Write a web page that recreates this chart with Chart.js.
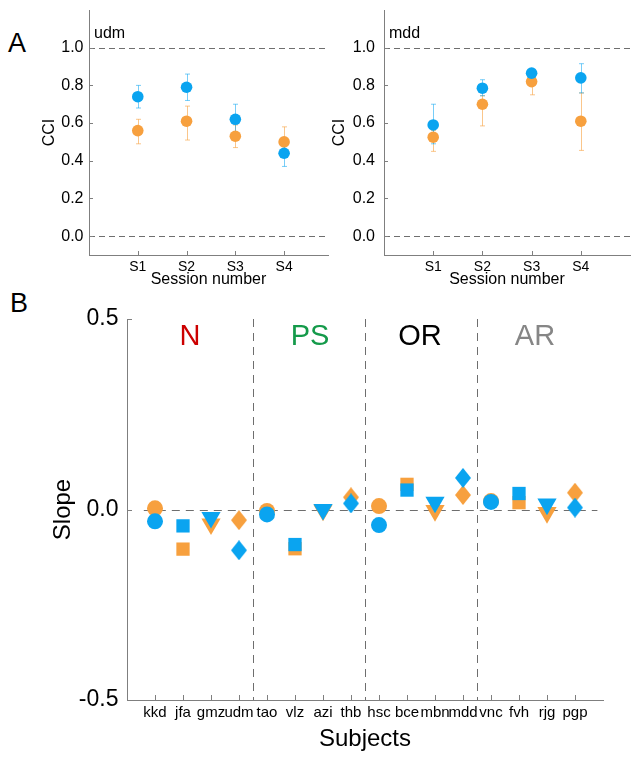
<!DOCTYPE html>
<html><head><meta charset="utf-8">
<script src="https://cdn.jsdelivr.net/npm/chart.js@4.4.1/dist/chart.umd.min.js"></script>
<style>
html,body{margin:0;padding:0;background:#fff;}
body{width:639px;height:763px;position:relative;overflow:hidden;font-family:"Liberation Sans",Arial,Helvetica,sans-serif;}
canvas{position:absolute;}
.pl{position:absolute;font-size:27px;line-height:27px;color:#000;}
</style></head><body>
<div class="pl" style="left:8px;top:30px">A</div>
<div class="pl" style="left:10px;top:290px">B</div>
<canvas id="cA1" width="335" height="295" style="left:0;top:0;width:335px;height:295px"></canvas>
<canvas id="cA2" width="339" height="295" style="left:300px;top:0;width:339px;height:295px"></canvas>
<canvas id="cB" width="639" height="463" style="left:0;top:300px;width:639px;height:463px"></canvas>
<script>
// ---------------- data ----------------
const sessions = ['S1', 'S2', 'S3', 'S4'];
const cciTicks = [0, 0.2, 0.4, 0.6, 0.8, 1.0];

const udmBlue      = [0.74, 0.79, 0.62, 0.44];
const udmBlueLow   = [0.68, 0.72, 0.53, 0.37];
const udmBlueHigh  = [0.80, 0.86, 0.70, 0.51];
const udmOrange     = [0.56, 0.61, 0.53, 0.50];
const udmOrangeLow  = [0.49, 0.51, 0.47, 0.43];
const udmOrangeHigh = [0.62, 0.69, 0.59, 0.58];

const mddBlue      = [0.59, 0.785, 0.865, 0.84];
const mddBlueLow   = [0.49, 0.745, 0.85, 0.76];
const mddBlueHigh  = [0.70, 0.83, 0.88, 0.915];
const mddOrange     = [0.525, 0.70, 0.82, 0.61];
const mddOrangeLow  = [0.45, 0.585, 0.75, 0.455];
const mddOrangeHigh = [0.56, 0.745, 0.86, 0.76];

const subjects = ['kkd','jfa','gmz','udm','tao','vlz','azi','thb','hsc','bce','mbn','mdd','vnc','fvh','rjg','pgp'];
const groups = ['N', 'PS', 'OR', 'AR'];
const slopeTicks = [-0.5, 0, 0.5];
const slopeOrange = [0.003,-0.104,-0.038,-0.028,-0.004,-0.103,-0.002,0.032,0.009,0.066,-0.003,0.038,0.022,0.018,-0.008,0.044];
const slopeBlue   = [-0.031,-0.043,-0.021,-0.107,-0.013,-0.092,0.000,0.016,-0.041,0.051,0.019,0.083,0.020,0.042,0.014,0.005];

// ---------------- styles ----------------
const FONT = '"Liberation Sans", Arial, Helvetica, sans-serif';
Chart.defaults.font.family = FONT;
Chart.defaults.color = '#000';
const BLUE = 'rgb(10,164,240)';
const ORANGE = 'rgb(247,160,62)';
const BLUE_ERR = 'rgba(10,164,240,0.55)';
const ORANGE_ERR = 'rgba(247,160,62,0.6)';
const AXIS = '#7f7f7f';
const DASH = '#6e6e6e';
const groupColors = ['#cc0000', '#149a4a', '#000000', '#868686'];
const groupDx = [-7, 1, -1, 2];

function pts(vals, xs) { return vals.map((v, i) => ({ x: xs ? xs[i] : i + 1, y: v })); }

function makeDecor(o) {
  return {
    id: 'decor',
    beforeDatasetsDraw(chart) {
      const { ctx, chartArea: a, scales: { x, y } } = chart;
      ctx.save();
      ctx.strokeStyle = DASH; ctx.lineWidth = 1; ctx.setLineDash(o.dash);
      (o.hLines || []).forEach(h => {
        const py = Math.round(y.getPixelForValue(h.v)) + 0.5;
        const x0 = h.from != null ? x.getPixelForValue(h.from) : a.left;
        const x1 = h.to != null ? x.getPixelForValue(h.to) : a.right;
        ctx.beginPath(); ctx.moveTo(x0, py); ctx.lineTo(x1, py); ctx.stroke();
      });
      (o.vLines || []).forEach(v => {
        const px = Math.round(x.getPixelForValue(v)) + 0.5;
        ctx.beginPath(); ctx.moveTo(px, a.top); ctx.lineTo(px, a.bottom); ctx.stroke();
      });
      ctx.setLineDash([]);
      chart.data.datasets.forEach((ds, i) => {
        if (!ds.errLow) return;
        const meta = chart.getDatasetMeta(i);
        ctx.strokeStyle = ds.errColor; ctx.lineWidth = 1;
        meta.data.forEach((p, j) => {
          const px = Math.round(p.x) + 0.5;
          const y0 = y.getPixelForValue(ds.errLow[j]);
          const y1 = y.getPixelForValue(ds.errHigh[j]);
          ctx.beginPath();
          ctx.moveTo(px, y0); ctx.lineTo(px, y1);
          ctx.moveTo(px - 2.5, y0); ctx.lineTo(px + 2.5, y0);
          ctx.moveTo(px - 2.5, y1); ctx.lineTo(px + 2.5, y1);
          ctx.stroke();
        });
      });
      ctx.restore();
    },
    afterDraw(chart) {
      const { ctx, chartArea: a, scales: { x, y } } = chart;
      ctx.save();
      ctx.strokeStyle = AXIS; ctx.lineWidth = 1;
      const L = o.tickLen;
      x.ticks.forEach(t => {
        const px = Math.round(x.getPixelForValue(t.value)) + 0.5;
        ctx.beginPath(); ctx.moveTo(px, a.bottom); ctx.lineTo(px, a.bottom - L); ctx.stroke();
      });
      y.ticks.forEach(t => {
        const py = Math.round(y.getPixelForValue(t.value)) + 0.5;
        ctx.beginPath(); ctx.moveTo(a.left, py); ctx.lineTo(a.left + L, py); ctx.stroke();
      });
      ctx.fillStyle = '#000';
      if (o.corner) {
        ctx.font = '16px ' + FONT; ctx.textAlign = 'left'; ctx.textBaseline = 'alphabetic';
        ctx.fillText(o.corner, a.left + 5, a.top + 28);
      }
      if (o.groups) {
        ctx.font = '29px ' + FONT; ctx.textAlign = 'center'; ctx.textBaseline = 'alphabetic';
        o.groups.forEach((g, k) => {
          ctx.fillStyle = groupColors[k];
          const cx = x.getPixelForValue(k * 4 + 2.5) + groupDx[k];
          ctx.fillText(g, cx, a.top + 26);
        });
      }
      ctx.restore();
    }
  };
}

function zeroPad(s) { s.paddingTop = 0; s.paddingBottom = 0; s.paddingLeft = 0; s.paddingRight = 0; }

function cciChart(id, name, blue, bLo, bHi, orange, oLo, oHi, yW, xMax, padRight, titlePad, tickPad) {
  new Chart(document.getElementById(id), {
    type: 'scatter',
    data: {
      datasets: [
        { label: name + ' orange', data: pts(orange), backgroundColor: ORANGE, pointRadius: 5.8, pointBorderWidth: 0, order: 1,
          errLow: oLo, errHigh: oHi, errColor: ORANGE_ERR },
        { label: name + ' blue', data: pts(blue), backgroundColor: BLUE, pointRadius: 5.8, pointBorderWidth: 0, order: 0,
          errLow: bLo, errHigh: bHi, errColor: BLUE_ERR }
      ]
    },
    options: {
      responsive: false, animation: false, devicePixelRatio: 1,
      layout: { padding: { top: 10, right: padRight, bottom: 0, left: 0 } },
      plugins: { legend: { display: false }, tooltip: { enabled: false } },
      scales: {
        x: {
          type: 'linear', min: 0, max: xMax,
          grid: { display: false, drawTicks: false },
          border: { display: true, color: AXIS, width: 1 },
          afterBuildTicks: s => { s.ticks = sessions.map((_, i) => ({ value: i + 1 })); },
          afterFit: s => { s.height = 40; zeroPad(s); },
          ticks: { autoSkip: false, maxRotation: 0, minRotation: 0, padding: 4, font: { size: 14 }, color: '#000',
            callback: v => sessions[Math.round(v) - 1] || '' },
          title: { display: true, text: 'Session number', font: { size: 16 }, color: '#000', padding: { top: 0, bottom: 6 } }
        },
        y: {
          type: 'linear', min: -0.1, max: 1.2,
          grid: { display: false, drawTicks: false },
          border: { display: true, color: AXIS, width: 1 },
          afterBuildTicks: s => { s.ticks = cciTicks.map(v => ({ value: v })); },
          afterFit: s => { s.width = yW; zeroPad(s); },
          ticks: { padding: tickPad, font: { size: 16 }, color: '#000', callback: v => v.toFixed(1) },
          title: { display: true, text: 'CCI', font: { size: 16 }, color: '#000', padding: { top: titlePad, bottom: 0 } }
        }
      }
    },
    plugins: [makeDecor({ dash: [6, 4], tickLen: 4, hLines: [{ v: 0 }, { v: 1 }], corner: name })]
  });
}

cciChart('cA1', 'udm', udmBlue, udmBlueLow, udmBlueHigh, udmOrange, udmOrangeLow, udmOrangeHigh, 89, 4.9, 7, 40, 5.5);
cciChart('cA2', 'mdd', mddBlue, mddBlueLow, mddBlueHigh, mddOrange, mddOrangeLow, mddOrangeHigh, 84, 5, 9, 30, 9);

// ---------------- panel B ----------------
function diamondImg(color, w, h) {
  const c = document.createElement('canvas'); c.width = w; c.height = h;
  const g = c.getContext('2d'); g.fillStyle = color;
  g.beginPath(); g.moveTo(w / 2, 0); g.lineTo(w, h / 2); g.lineTo(w / 2, h); g.lineTo(0, h / 2); g.closePath(); g.fill();
  return c;
}
const diaO = diamondImg(ORANGE, 16, 20), diaB = diamondImg(BLUE, 16, 20);
const shapeOf = (i, dia) => ['circle', 'rect', 'triangle', dia][i % 4];
const radiusOf = i => [8, 9.4, 11.1, 10][i % 4];
const rotOf = i => (i % 4 === 2 ? 180 : 0);

new Chart(document.getElementById('cB'), {
  type: 'scatter',
  data: {
    datasets: [
      { label: 'orange', data: pts(slopeOrange), backgroundColor: ORANGE, pointBorderWidth: 0, order: 1,
        pointStyle: subjects.map((_, i) => shapeOf(i, diaO)), pointRadius: subjects.map((_, i) => radiusOf(i)),
        pointRotation: subjects.map((_, i) => rotOf(i)) },
      { label: 'blue', data: pts(slopeBlue), backgroundColor: BLUE, pointBorderWidth: 0, order: 0,
        pointStyle: subjects.map((_, i) => shapeOf(i, diaB)), pointRadius: subjects.map((_, i) => radiusOf(i)),
        pointRotation: subjects.map((_, i) => rotOf(i)) }
    ]
  },
  options: {
    responsive: false, animation: false, devicePixelRatio: 1,
    layout: { padding: { top: 19, right: 36, bottom: 0, left: 0 } },
    plugins: { legend: { display: false }, tooltip: { enabled: false } },
    scales: {
      x: {
        type: 'linear', min: 0, max: 17,
        grid: { display: false, drawTicks: false },
        border: { display: true, color: AXIS, width: 1 },
        afterBuildTicks: s => { s.ticks = subjects.map((_, i) => ({ value: i + 1 })); },
        afterFit: s => { s.height = 63; zeroPad(s); },
        ticks: { autoSkip: false, maxRotation: 0, minRotation: 0, padding: 4, font: { size: 15 }, color: '#000',
          callback: v => subjects[Math.round(v) - 1] || '' },
        title: { display: true, text: 'Subjects', font: { size: 24 }, color: '#000', padding: { top: 0, bottom: 9.5 } }
      },
      y: {
        type: 'linear', min: -0.5, max: 0.5,
        grid: { display: false, drawTicks: false },
        border: { display: true, color: AXIS, width: 1 },
        afterBuildTicks: s => { s.ticks = slopeTicks.map(v => ({ value: v })); },
        afterFit: s => { s.width = 127; zeroPad(s); },
        ticks: { padding: 8.5, font: { size: 23 }, color: '#000', callback: v => v.toFixed(1) },
        title: { display: true, text: 'Slope', font: { size: 24 }, color: '#000', padding: { top: 49, bottom: 0 } }
      }
    }
  },
  plugins: [makeDecor({ dash: [8, 6], tickLen: 5, hLines: [{ v: 0, from: 0.6, to: 16.8 }], vLines: [4.5, 8.5, 12.5], groups: groups })]
});
</script>
</body></html>
